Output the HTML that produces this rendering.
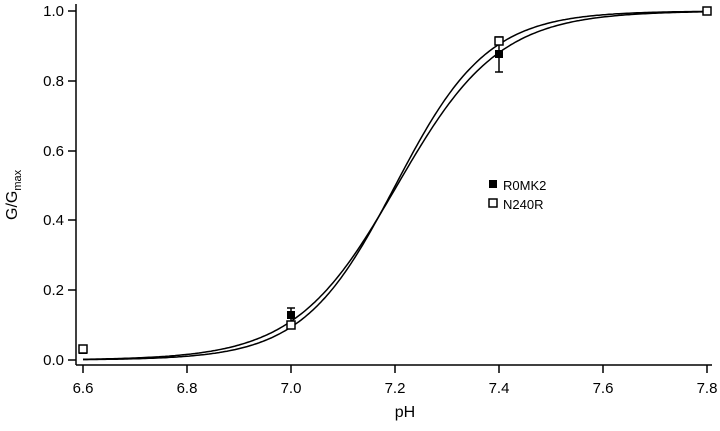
<!DOCTYPE html>
<html><head><style>
body{margin:0;background:#fff;}
svg text{font-family:"Liberation Sans",sans-serif;fill:#000;}
</style></head><body>
<svg id="s" width="720" height="426" xmlns="http://www.w3.org/2000/svg">
<g stroke="#000" stroke-width="1.5" fill="none">
<line x1="76" y1="4" x2="76" y2="365"/>
<line x1="76" y1="365" x2="712" y2="365"/>
<line x1="68" y1="360" x2="76" y2="360"/>
<line x1="68" y1="290" x2="76" y2="290"/>
<line x1="68" y1="220" x2="76" y2="220"/>
<line x1="68" y1="151" x2="76" y2="151"/>
<line x1="68" y1="81" x2="76" y2="81"/>
<line x1="68" y1="11" x2="76" y2="11"/>
<line x1="83" y1="365" x2="83" y2="373"/>
<line x1="187" y1="365" x2="187" y2="373"/>
<line x1="291" y1="365" x2="291" y2="373"/>
<line x1="395" y1="365" x2="395" y2="373"/>
<line x1="499" y1="365" x2="499" y2="373"/>
<line x1="603" y1="365" x2="603" y2="373"/>
<line x1="707" y1="365" x2="707" y2="373"/>
</g>
<g font-size="15" text-anchor="end">
<text x="64" y="365">0.0</text><text x="64" y="295">0.2</text><text x="64" y="225">0.4</text>
<text x="64" y="156">0.6</text><text x="64" y="86">0.8</text><text x="64" y="16">1.0</text>
</g>
<g font-size="15" text-anchor="middle">
<text x="83" y="393">6.6</text><text x="187" y="393">6.8</text><text x="291" y="393">7.0</text>
<text x="395" y="393">7.2</text><text x="499" y="393">7.4</text><text x="603" y="393">7.6</text>
<text x="707" y="393">7.8</text>
<text x="405" y="417" font-size="16">pH</text>
</g>
<text transform="translate(17,220) rotate(-90)" font-size="16">G/G<tspan font-size="11" dy="4">max</tspan></text>
<g id="curves" fill="none" stroke="#000" stroke-width="1.5"></g>
<g stroke="#000" stroke-width="1.5">
<line x1="291" y1="308" x2="291" y2="322"/><line x1="287" y1="308" x2="295" y2="308"/><line x1="287" y1="322" x2="295" y2="322"/>
<line x1="499" y1="37" x2="499" y2="72"/><line x1="495" y1="72" x2="503" y2="72"/><line x1="495" y1="37" x2="503" y2="37"/>
</g>
<g fill="#000">
<rect x="79" y="346" width="8" height="8"/><rect x="287" y="311" width="8" height="8"/>
<rect x="495" y="50" width="8" height="8"/><rect x="703" y="7" width="8" height="8"/>
<rect x="489" y="180" width="8" height="8"/>
</g>
<g fill="#fff" stroke="#000" stroke-width="1.5">
<rect x="79" y="345" width="8" height="8"/><rect x="287" y="321" width="8" height="8"/>
<rect x="495" y="37" width="8" height="8"/><rect x="703" y="7" width="8" height="8"/>
<rect x="489" y="199" width="8" height="8"/>
</g>
<text x="503" y="190" font-size="13">R0MK2</text>
<text x="503" y="209" font-size="13">N240R</text>
</svg>
<script>
var g=document.getElementById('curves');
[[4.43,7.204],[4.9,7.2006]].forEach(function(p){
 var d='';
 for(var x=83;x<=707;x+=2){var ph=6.6+(x-83)/520;var f=1/(1+Math.pow(10,p[0]*(p[1]-ph)));
 d+=(d?'L':'M')+x+','+(360-349*f).toFixed(1);}
 var e=document.createElementNS('http://www.w3.org/2000/svg','path');e.setAttribute('d',d);g.appendChild(e);
});
</script>
</body></html>
